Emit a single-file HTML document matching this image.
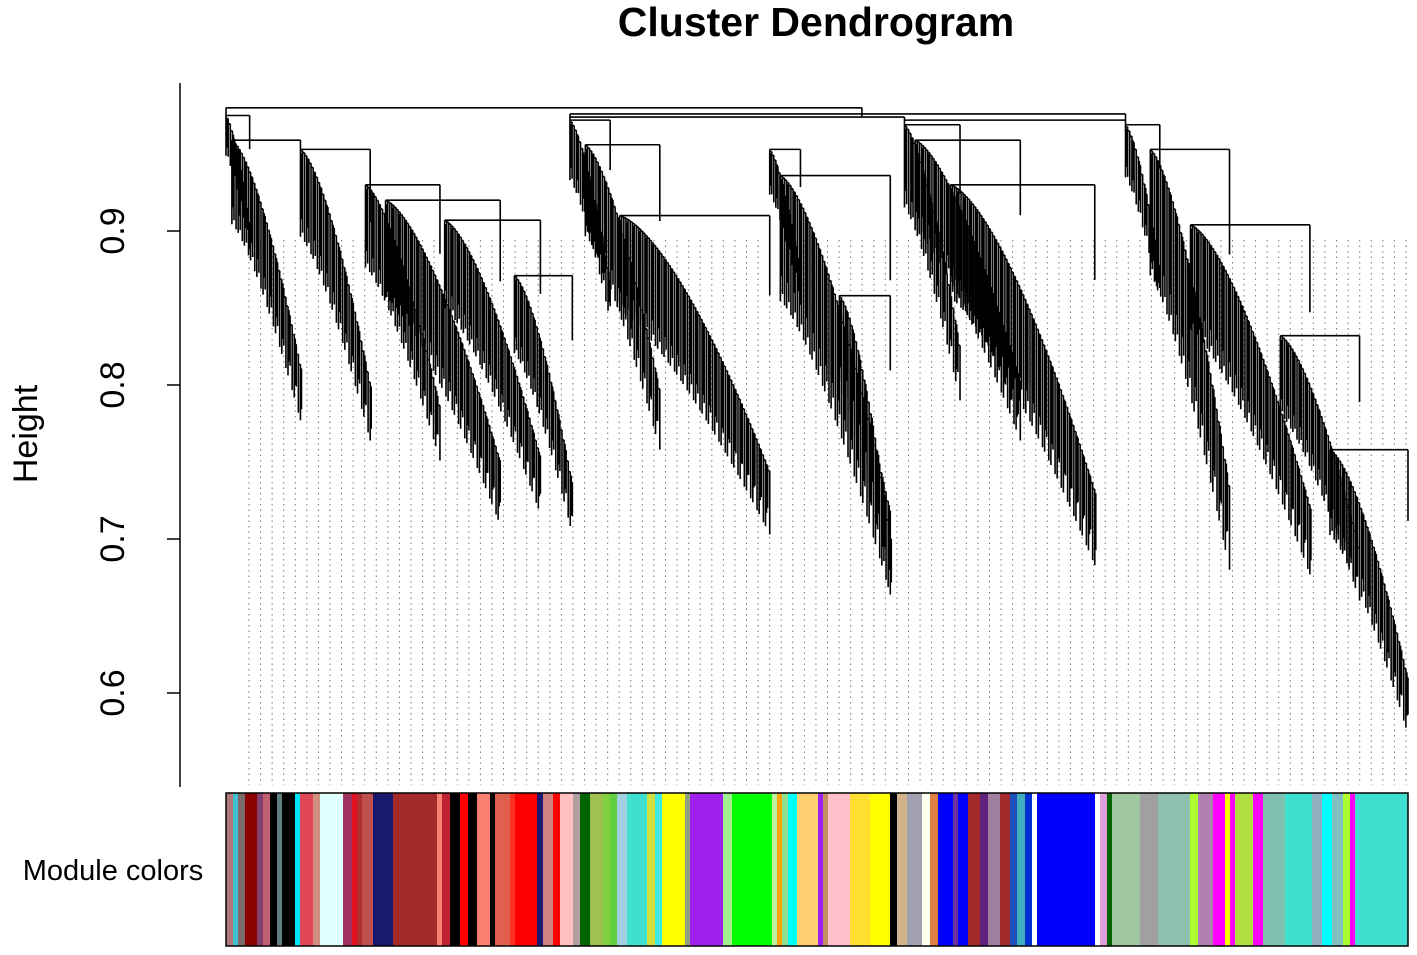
<!DOCTYPE html>
<html><head><meta charset="utf-8"><style>
body{margin:0;background:#fff;width:1417px;height:955px;overflow:hidden}
svg{display:block}
text{font-family:"Liberation Sans",sans-serif;fill:#000}
</style></head><body>
<svg id="chart" width="1417" height="955">
<text x="816" y="36" font-size="41" font-weight="bold" text-anchor="middle">Cluster Dendrogram</text>
<text transform="translate(37,434) rotate(-90)" font-size="34" text-anchor="middle">Height</text>
<text x="113" y="880" font-size="29" text-anchor="middle">Module colors</text>
<g id="dots"></g>
<g id="colorbar"></g>
<g id="tree"></g>
<g id="axis"></g>
</svg>
<script>
// y-axis ticks
const yTicks=[0.6,0.7,0.8,0.9];
const yTickLabels=["0.6","0.7","0.8","0.9"];
// bundles: leaf-order start/end (percent), top merge height, lowest leaf height
const bundleStart=[0,0.5,6.3,11.8,13.5,18.5,24.4,29.1,30.4,33.3,46.0,46.9,51.9,57.4,58.3,61.3,76.1,78.2,81.6,89.2,93.4];
const bundleEnd=[2.0,6.3,12.2,18.1,23.2,26.6,29.3,32.5,36.7,46.0,48.6,56.2,56.2,62.1,67.2,73.5,79.0,84.9,91.7,95.9,100];
const bundleTop=[0.975,0.959,0.953,0.930,0.920,0.907,0.871,0.972,0.956,0.910,0.953,0.936,0.858,0.969,0.959,0.930,0.969,0.953,0.904,0.832,0.758];
const bundleBottom=[0.888,0.777,0.764,0.751,0.709,0.716,0.703,0.842,0.758,0.703,0.855,0.664,0.664,0.790,0.764,0.683,0.855,0.680,0.677,0.660,0.573];
// major joins
const joinLeft=[0,29.1,29.1,57.4];
const joinRight=[53.8,76.1,57.4,76.1];
const joinHeight=[0.980,0.976,0.974,0.972];
// module colour segments (leaf-order units 0..1182)
const segStart=[0,7,12,19,31,37,44,51,56,69,74,87,94,117,126,131,136,147,167,211,216,224,234,242,251,264,269,284,289,311,317,327,334,347,354,364,377,384,391,401,421,429,436,459,464,497,506,546,551,556,562,571,592,597,602,624,644,664,671,681,696,704,712,727,732,742,754,762,774,784,791,799,806,811,869,874,881,886,914,932,964,972,987,999,1004,1009,1027,1037,1059,1086,1096,1106,1117,1124,1129];
const segColor=["#b07878","#40c0d0","#7a6a6a","#8b0000","#804070","#c06070","#000000","#608080","#000000","#00e5ff","#e04858","#d09080","#e0ffff","#a03060","#e01020","#b03030","#c05050","#191970","#a52a2a","#fa8072","#c02030","#000000","#ff0000","#000000","#fa8072","#000000","#e06050","#ff3020","#ff0000","#191970","#d08080","#ff0000","#ffc0c0","#b0a0a0","#006400","#a0c050","#80d040","#60d040","#a0d0e0","#40e0d0","#d0e040","#40e8e0","#ffff00","#90a080","#a020f0","#a0f090","#00ff00","#c0f0a0","#ffa500","#90e090","#00ffff","#ffd070","#a020f0","#c09060","#ffc0cb","#ffe030","#ffff00","#000000","#d2b48c","#a0a0b0","#fffff0","#e08040","#0000ff","#7030a0","#0000ff","#a52a2a","#602080","#a080a0","#a52a2a","#2050c0","#40b0c0","#0030d0","#ffffff","#0000ff","#ffffff","#dda0dd","#006400","#a0c8a0","#a0a0a0","#90c0b0","#adff2f","#b080b0","#ff00ff","#ffff00","#ff00ff","#b0e040","#ff00ff","#80c0b0","#40e0d0","#90b0c0","#00ffff","#80c0c0","#adff2f","#ff00ff","#40e0d0"];
const ns="http://www.w3.org/2000/svg";
const X0=226,X1=1408;
const xs=p=>X0+(X1-X0)*p/100;
const ys=h=>693-(h-0.6)*1540;
function mk(tag,attrs,parent){const e=document.createElementNS(ns,tag);for(const k in attrs)e.setAttribute(k,attrs[k]);parent.appendChild(e);return e;}
// axis
const ax=document.getElementById('axis');
const al=mk('line',{x1:180,x2:180,y1:83,y2:787,stroke:'#000','stroke-width':1.5},ax);


yTicks.forEach((v,i)=>{
  const t=mk('line',{x1:167,x2:180,y1:ys(v),y2:ys(v),stroke:'#000','stroke-width':1.5},ax);
  
  
  const tx=mk('text',{transform:`translate(124,${ys(v)}) rotate(-90)`,'font-size':34,'text-anchor':'middle'},ax);
  tx.textContent=yTickLabels[i];
  
  
});
// dotted guides
const dots=document.getElementById('dots');
for(let x=249;x<=1406;x+=11.57){
  const d=mk('line',{x1:x,x2:x,y1:240,y2:785,stroke:'#777','stroke-width':1,'stroke-dasharray':'1.5,4'},dots);
  
  
}
// colour bar
const cb=document.getElementById('colorbar');
segStart.forEach((s,i)=>{
  const e=(i+1<segStart.length?segStart[i+1]:1182);
  const r=mk('rect',{x:X0+s,y:793,width:e-s+0.5,height:153,fill:segColor[i]},cb);
  
  
});
const bd=mk('rect',{x:X0,y:793,width:X1-X0,height:153,fill:'none',stroke:'#000','stroke-width':1.5},cb);


// tree
const tr=document.getElementById('tree');
let path='';
joinLeft.forEach((l,i)=>{
  const y=ys(joinHeight[i]);
  path+=`M${xs(l)},${y}H${xs(joinRight[i])}M${xs(l)},${y}v10M${xs(joinRight[i])},${y}v10`;
});
bundleStart.forEach((s,i)=>{
  const a=xs(s),b=xs(bundleEnd[i]),yt=ys(bundleTop[i]),yb=ys(bundleBottom[i]);
  const n=Math.max(8,Math.round((b-a)/2.1));
  path+=`M${a},${yt}H${b}M${a},${yt}V${yt+(yb-yt)*0.3}M${b},${yt}V${yt+(yb-yt)*0.25}`;
  let px=a;
  for(let k=0;k<=n;k++){
    const t=k/n;const x=a+(b-a)*t;
    const jy=yt+(yb-yt)*Math.pow(t,1.5)*0.8;
    const ey=yt+(yb-yt)*(0.3+0.7*Math.pow(t,1.3))*((k%3===1)?0.93:1);
    path+=`M${px},${jy}H${x}M${x},${jy}V${ey}`;
    if(k%3===0)path+=`M${x+1},${jy+4}V${ey-(ey-jy)*0.2}`;
    px=x;
  }
});
const p=mk('path',{d:path,stroke:'#000','stroke-width':1.6,fill:'none'},tr);


</script>
</body></html>
